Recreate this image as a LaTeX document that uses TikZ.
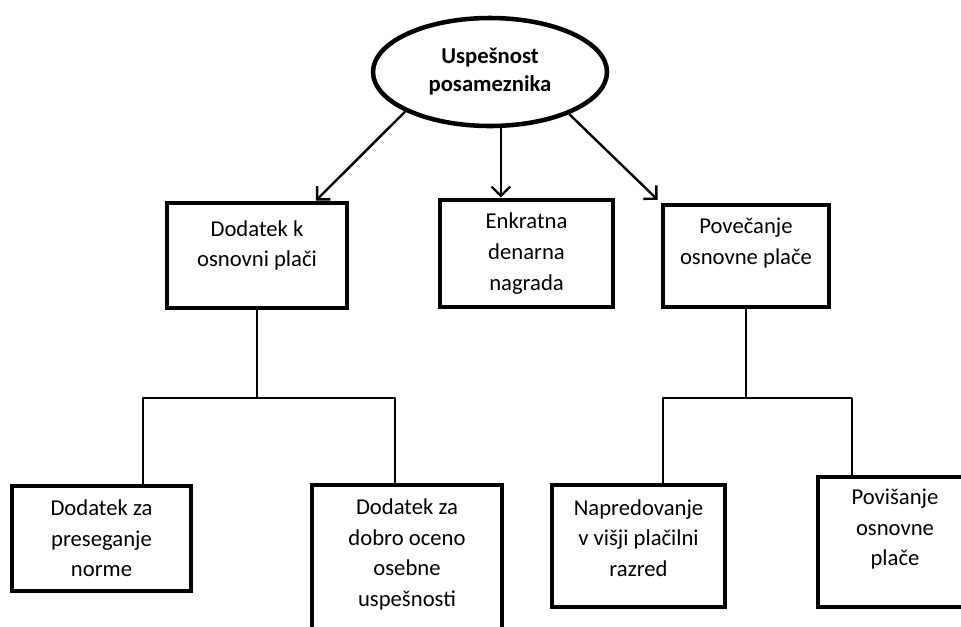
\documentclass[tikz,border=0pt]{standalone}
\usepackage{fontspec}
\setmainfont{Carlito}
\usetikzlibrary{shapes.geometric, arrows.meta}

\tikzset{
  plan/.style={draw, line width=3.6pt, rectangle, align=center, inner sep=0pt,
    font=\fontsize{17}{23}\selectfont},
  vrh/.style={draw, line width=3.4pt, ellipse, align=center, inner sep=0pt,
    font=\bfseries\fontsize{17}{21}\selectfont},
  pusc/.style={line width=1.8pt, -{Straight Barb[length=7pt,width=14pt]}},
  vez/.style={line width=2.2pt, line join=round},
}

\begin{document}
\begin{tikzpicture}[x=0.75pt, y=-0.75pt]
    \useasboundingbox (0,0) rectangle (961,626);
    \clip (0,0) rectangle (961,626); % boxes run off the page as in the scan

    \node[vrh, minimum width=175.5pt, minimum height=81pt] (top) at (490,72)
        {Uspešnost\\posameznika};

    % first level
    \node[plan, minimum width=135pt, minimum height=78.75pt, text depth=18pt]
        (dodatek) at (257,255.5) {Dodatek k\\osnovni plači};
    \node[plan, minimum width=129.75pt, minimum height=80.25pt]
        (enkratna) at (526.5,253.5) {Enkratna\\denarna\\nagrada};
    \node[plan, minimum width=124.5pt, minimum height=76.5pt, text depth=22pt]
        (povecanje) at (746,256) {Povečanje\\osnovne plače};

    % second level
    \node[plan, minimum width=134.25pt, minimum height=78.75pt]
        (norma) at (101.5,538.5) {Dodatek za\\preseganje\\norme};
    \node[plan, minimum width=142.5pt, minimum height=127.5pt, text depth=26pt]
        (ocena) at (407,570) {Dodatek za\\dobro oceno\\osebne\\uspešnosti};
    \node[plan, minimum width=129.75pt, minimum height=91.5pt, text depth=12pt]
        (razred) at (638.5,546) {Napredovanje\\v višji plačilni\\razred};
    \node[plan, minimum width=115.5pt, minimum height=97.5pt, text depth=22pt]
        (povisanje) at (895,542) {Povišanje\\osnovne\\plače};

    \draw[pusc] (top.205) -- (dodatek.43);
    \draw[pusc] (top.281) -- (top.281 |- enkratna.north);
    \draw[pusc, shorten >=3pt] (top.332) -- (povecanje.north west);

    % the two busses under the first level
    \coordinate (levo)  at (143,398);
    \coordinate (desno) at (395,398);
    \coordinate (levo2)  at (663,398);
    \coordinate (desno2) at (852,398);
    \draw[vez] (dodatek.south) -- (dodatek.south |- levo);
    \draw[vez] (levo |- norma.north) -- (levo) -- (desno) -- (desno |- ocena.north);
    \draw[vez] (povecanje.south) -- (povecanje.south |- levo2);
    \draw[vez] (levo2 |- razred.north) -- (levo2) -- (desno2) -- (desno2 |- povisanje.north);
\end{tikzpicture}
\end{document}
